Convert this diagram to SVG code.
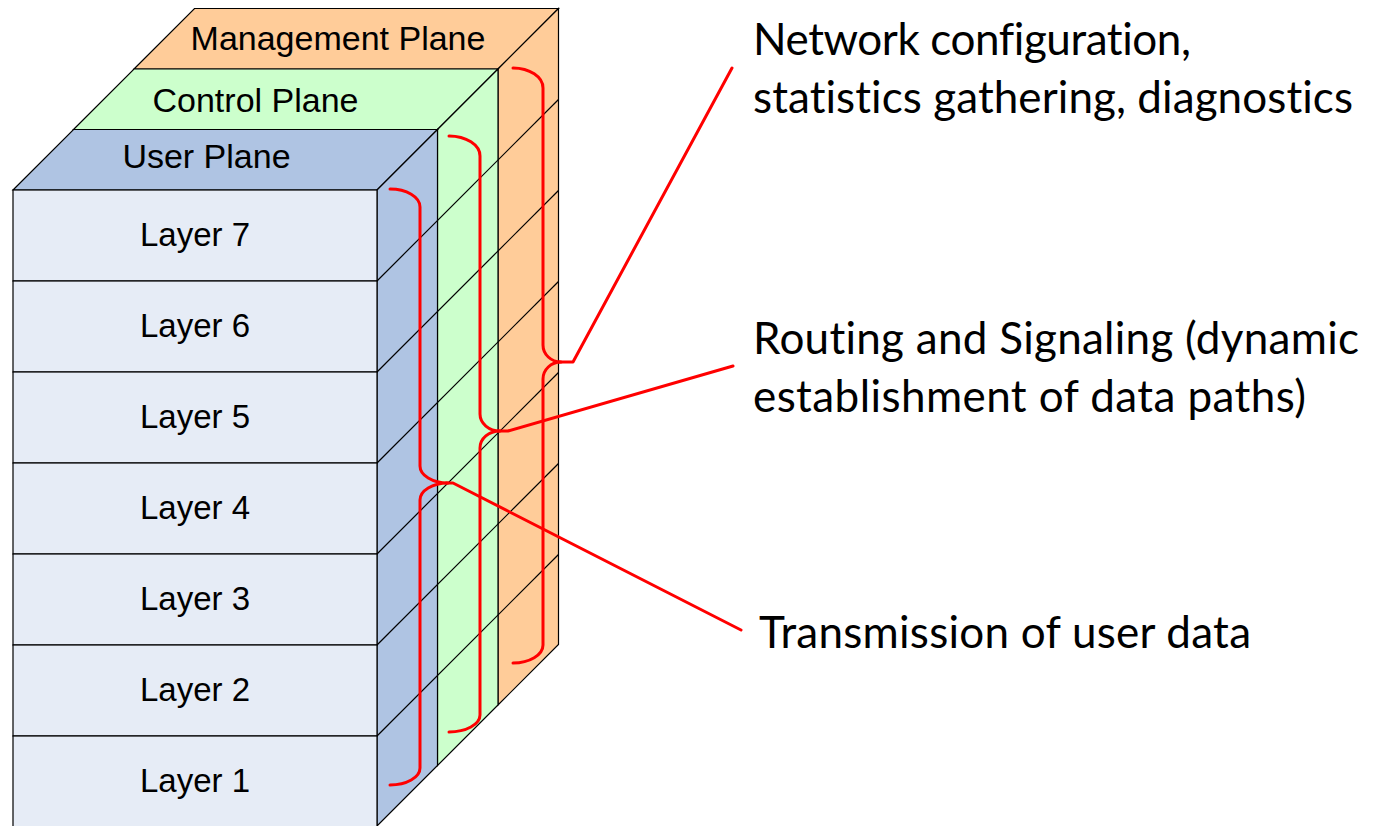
<svg xmlns="http://www.w3.org/2000/svg" width="1379" height="826" viewBox="0 0 1379 826">
<defs>
<style>
.edge{stroke:#000;stroke-width:1.2;fill:none}
.front{fill:#E6ECF6;stroke:#000;stroke-width:1.2}
.blue{fill:#AFC4E3;stroke:#000;stroke-width:1.2}
.green{fill:#CCFFCC;stroke:#000;stroke-width:1.2}
.orange{fill:#FFCC99;stroke:#000;stroke-width:1.2}
.lbl{font-family:"Liberation Sans",Arial,sans-serif;font-size:33px;fill:#000;text-anchor:middle}
.plbl{font-family:"Liberation Sans",Arial,sans-serif;font-size:34px;fill:#000;text-anchor:middle}
.note{font-family:Lato,"Open Sans",sans-serif;font-size:44px;fill:#000;font-variant-ligatures:none;font-feature-settings:"liga" 0}
.red{stroke:#FF0000;stroke-width:3;fill:none;stroke-linejoin:round;stroke-linecap:round}
</style>
</defs>
<rect width="1379" height="826" fill="#FFFFFF"/>

<g id="management-plane">
<polygon class="orange" points="134,69 498,69 558.5,8.5 194.5,8.5"/>
<polygon class="orange" points="498,69 558.5,8.5 558.5,644.5 498,705"/>
<text class="plbl" x="338" y="50">Management Plane</text>
</g>

<g id="control-plane">
<polygon class="green" points="73.5,129.5 437.5,129.5 498,69 134,69"/>
<polygon class="green" points="437.5,129.5 498,69 498,705 437.5,765.5"/>
<text class="plbl" x="255.5" y="112">Control Plane</text>
</g>

<g id="user-plane">
<polygon class="blue" points="13,190 377,190 437.5,129.5 73.5,129.5"/>
<polygon class="blue" points="377,190 437.5,129.5 437.5,765.5 377,826"/>
<text class="plbl" x="206.5" y="168">User Plane</text>
</g>

<g id="layer-7"><rect class="front" x="13" y="190" width="364" height="91"/><text class="lbl" x="195" y="246">Layer 7</text></g>
<g id="layer-6"><rect class="front" x="13" y="281" width="364" height="91"/><text class="lbl" x="195" y="337">Layer 6</text></g>
<g id="layer-5"><rect class="front" x="13" y="372" width="364" height="91"/><text class="lbl" x="195" y="428">Layer 5</text></g>
<g id="layer-4"><rect class="front" x="13" y="463" width="364" height="91"/><text class="lbl" x="195" y="519">Layer 4</text></g>
<g id="layer-3"><rect class="front" x="13" y="554" width="364" height="91"/><text class="lbl" x="195" y="610">Layer 3</text></g>
<g id="layer-2"><rect class="front" x="13" y="645" width="364" height="91"/><text class="lbl" x="195" y="701">Layer 2</text></g>
<g id="layer-1"><rect class="front" x="13" y="736" width="364" height="91"/><text class="lbl" x="195" y="792">Layer 1</text></g>

<g id="layer-edges">
<line class="edge" x1="377" y1="281" x2="558.5" y2="99.5"/>
<line class="edge" x1="377" y1="372" x2="558.5" y2="190.5"/>
<line class="edge" x1="377" y1="463" x2="558.5" y2="281.5"/>
<line class="edge" x1="377" y1="554" x2="558.5" y2="372.5"/>
<line class="edge" x1="377" y1="645" x2="558.5" y2="463.5"/>
<line class="edge" x1="377" y1="736" x2="558.5" y2="554.5"/>
</g>

<g id="note-management">
<text class="note" x="753" y="55" textLength="438" lengthAdjust="spacing">Network configuration,</text>
<text class="note" x="753" y="113" textLength="600" lengthAdjust="spacing">statistics gathering, diagnostics</text>
</g>
<g id="note-control">
<text class="note" x="753" y="354" textLength="606" lengthAdjust="spacing">Routing and Signaling (dynamic</text>
<text class="note" x="753" y="412" textLength="553" lengthAdjust="spacing">establishment of data paths)</text>
</g>
<g id="note-user">
<text class="note" x="759" y="648" textLength="492" lengthAdjust="spacing">Transmission of user data</text>
</g>

<g id="connectors">
<path class="red" d="M513,68 A30,20 0 0 1 543,88 L543,345 A18,17 0 0 0 561,362 A18,17 0 0 0 543,379 L543,645 A30,18 0 0 1 513,663"/>
<polyline class="red" points="559,362 573,362 732,68"/>
<path class="red" d="M449,136 A31,20 0 0 1 480,156 L480,414 A20,17 0 0 0 500,431 A20,17 0 0 0 480,448 L480,715 A31,17 0 0 1 449,732"/>
<polyline class="red" points="498,431 508,431 733,366"/>
<path class="red" d="M390,189 A30,18 0 0 1 420,207 L420,466 A28,17 0 0 0 448,483 A28,17 0 0 0 420,500 L420,768 A30,17 0 0 1 390,785"/>
<polyline class="red" points="446,483 453,483 741,630"/>
</g>
</svg>
